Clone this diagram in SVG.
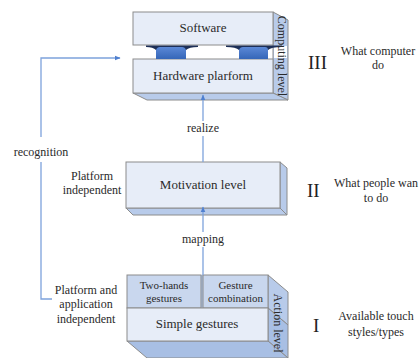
<svg xmlns="http://www.w3.org/2000/svg" width="420" height="358" viewBox="0 0 420 358">
  <defs>
    <marker id="arrow" viewBox="0 0 10 10" refX="9" refY="5" markerWidth="6" markerHeight="6" orient="auto-start-reverse" markerUnits="userSpaceOnUse">
      <path d="M0,1 L10,5 L0,9 Z" fill="#4f7fcf"/>
    </marker>
    <linearGradient id="padFill" x1="0" y1="0" x2="0" y2="1">
      <stop offset="0" stop-color="#5b88d6"/>
      <stop offset="1" stop-color="#3566b8"/>
    </linearGradient>
    <style>
      .front { fill: #e7edf8; stroke: #8c8c8c; stroke-width: 1; }
      .cell { fill: #c9d7ee; stroke: #8c8c8c; stroke-width: 1; }
      .side { fill: #b8cbea; stroke: #8c8c8c; stroke-width: 1; }
      .sideDark { fill: #a8bfe4; stroke: #8c8c8c; stroke-width: 1; }
      .shoulder { fill: #1d2f57; }
      .pad { fill: url(#padFill); }
      .lbl { font-family: "Liberation Serif", "Times New Roman", serif; fill: #2a2a2a; text-anchor: middle; }
      .big { font-size: 13px; }
      .small { font-size: 11px; }
      .note { font-size: 12px; }
      .roman { font-family: "Liberation Serif", "Times New Roman", serif; fill: #222222; font-size: 19px; }
      .link { fill: none; stroke: #7da2dc; stroke-width: 1.3; }
    </style>
  </defs>

  <!-- Computing level: software on top of the hardware platform -->
  <g id="computing-level">
    <!-- side face spanning both slabs -->
    <polygon class="side" points="273,12 288,20 288,100 273,93"/>
    <!-- software slab -->
    <rect class="front" x="133" y="12" width="140" height="33"/>
    <text class="lbl big" x="203" y="32">Software</text>
    <!-- gap between slabs -->
    <rect x="274" y="46" width="13" height="12" fill="#ffffff"/>
    <!-- hardware slab -->
    <polygon class="side" points="133,93 273,93 288,100 147,100"/>
    <rect class="front" x="133" y="59" width="140" height="34"/>
    <text class="lbl big" x="203" y="80">Hardware plarform</text>
    <!-- connecting pads with their dark rims -->
    <path class="shoulder" d="M146,45.5 L198,45.5 L198,47 Q189,47 186,50 L156,50 Q153,47 146,47 Z"/>
    <path class="pad" d="M156,50 Q157,47 160,47 L182,47 Q185,47 186,50 L186,59 L156,59 Z"/>
    <path class="shoulder" d="M226,45.5 L282,45.5 L282,47 Q271,47 268,50 L239,50 Q236,47 226,47 Z"/>
    <path class="pad" d="M239,50 Q240,47 243,47 L265,47 Q268,47 268,50 L268,59 L239,59 Z"/>
    <text class="lbl note" transform="translate(277.5,56) rotate(90)">Computing level</text>
  </g>

  <!-- Motivation level -->
  <g id="motivation-level">
    <polygon class="side" points="280,162 287,168 287,215 280,208"/>
    <polygon class="side" points="126,208 280,208 287,215 133,215"/>
    <rect class="front" x="126" y="162" width="154" height="46"/>
    <text class="lbl big" x="203" y="189">Motivation level</text>
  </g>

  <!-- Action level -->
  <g id="action-level">
    <polygon class="side" points="268,275 288,292 288,325 268,308"/>
    <polygon class="sideDark" points="268,308 288,325 288,358 268,341"/>
    <polygon class="sideDark" points="127,341 268,341 288,358 147,358"/>
    <rect class="cell" x="127" y="275" width="74" height="33"/>
    <rect class="cell" x="203" y="275" width="65" height="33"/>
    <rect x="201" y="275" width="2" height="33" fill="#9aa6b8"/>
    <rect class="front" x="127" y="308" width="141" height="33"/>
    <text class="lbl small" x="164" y="289">Two-hands</text>
    <text class="lbl small" x="164" y="302">gestures</text>
    <text class="lbl small" x="235.5" y="289">Gesture</text>
    <text class="lbl small" x="235.5" y="302">combination</text>
    <text class="lbl big" x="197" y="328">Simple gestures</text>
    <text class="lbl note" transform="translate(274,323) rotate(90)">Action level</text>
  </g>

  <!-- Connectors -->
  <g id="connectors">
    <path class="link" d="M52,299 L41,299 L41,162"/>
    <path class="link" d="M41,137 L41,58 L120,58" marker-end="url(#arrow)"/>
    <path class="link" d="M203,162 L203,136"/>
    <path class="link" d="M203,121 L203,95" marker-end="url(#arrow)"/>
    <path class="link" d="M203,275 L203,247"/>
    <path class="link" d="M203,232 L203,207" marker-end="url(#arrow)"/>
  </g>

  <!-- Connector labels -->
  <g id="connector-labels">
    <text class="lbl note" x="41" y="156">recognition</text>
    <text class="lbl note" x="203" y="132">realize</text>
    <text class="lbl note" x="203" y="243">mapping</text>
  </g>

  <!-- Side notes -->
  <g id="notes-left">
    <text class="lbl note" x="92" y="180">Platform</text>
    <text class="lbl note" x="92" y="194">independent</text>
    <text class="lbl note" x="86" y="294">Platform and</text>
    <text class="lbl note" x="86" y="308">application</text>
    <text class="lbl note" x="86" y="323">independent</text>
  </g>

  <g id="level-III">
    <text class="roman" x="308" y="69">III</text>
    <text class="lbl note" x="378" y="55">What computer</text>
    <text class="lbl note" x="378" y="69">do</text>
  </g>
  <g id="level-II">
    <text class="roman" x="307" y="197">II</text>
    <text class="lbl note" x="376" y="187">What people wan</text>
    <text class="lbl note" x="376" y="202">to do</text>
  </g>
  <g id="level-I">
    <text class="roman" x="313" y="332">I</text>
    <text class="lbl note" x="376" y="320">Available touch</text>
    <text class="lbl note" x="376" y="336">styles/types</text>
  </g>
</svg>
